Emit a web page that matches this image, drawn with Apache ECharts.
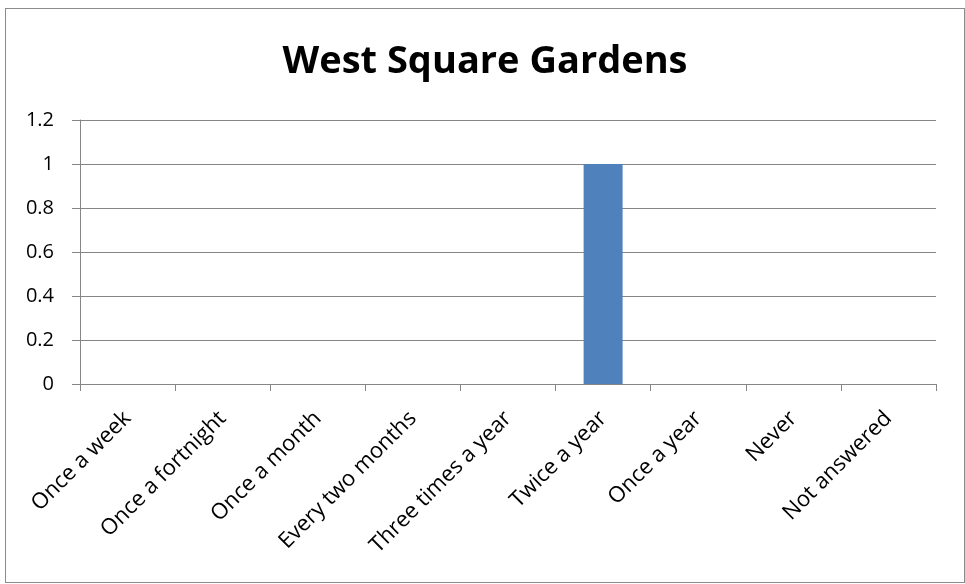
<!DOCTYPE html>
<html>
<head>
<meta charset="utf-8">
<script src="https://cdn.jsdelivr.net/npm/echarts@6/dist/echarts.min.js"></script>
<style>
  html, body { margin: 0; padding: 0; background: #fff; }
  #chart { position: absolute; left: 5px; top: 8px; width: 960px; height: 575px;
    border: 1px solid #8c8c8c; box-sizing: border-box; }
</style>
</head>
<body>
<div id="chart"></div>
<script>
var categories = ['Once a week', 'Once a fortnight', 'Once a month', 'Every two months',
  'Three times a year', 'Twice a year', 'Once a year', 'Never', 'Not answered'];
var counts = [0, 0, 0, 0, 0, 1, 0, 0, 0];
var yTicks = [0, 0.2, 0.4, 0.6, 0.8, 1, 1.2];

var chart = echarts.init(document.getElementById('chart'));
var font = 'Open Sans';

var option = {
  animation: false,
  title: {
    text: 'West Square Gardens',
    left: 'center',
    top: 29,
    textStyle: { fontFamily: font, fontSize: 38, fontWeight: 'bold', color: '#000' }
  },
  grid: { left: 74, right: 28, top: 111, bottom: 198 },
  xAxis: {
    type: 'category',
    data: categories,
    axisLine: { lineStyle: { color: '#868686', width: 1 } },
    axisTick: { show: true, length: 7, lineStyle: { color: '#868686' } },
    axisLabel: {
      rotate: 45, interval: 0, margin: 31,
      fontFamily: font, fontSize: 22, color: '#000'
    }
  },
  yAxis: {
    type: 'value',
    min: yTicks[0],
    max: yTicks[yTicks.length - 1],
    interval: 0.2,
    axisLine: { show: true, lineStyle: { color: '#868686' } },
    axisTick: { show: true, length: 8, lineStyle: { color: '#868686' } },
    splitLine: { lineStyle: { color: '#868686', width: 1 } },
    axisLabel: {
      fontFamily: font, fontSize: 20, color: '#000', margin: 26,
      formatter: function (v) { return String(Math.round(v * 10) / 10); }
    }
  },
  series: [{
    type: 'bar',
    data: counts,
    barWidth: '41%',
    itemStyle: { color: '#4f81bd' }
  }]
};
chart.setOption(option);
</script>
</body>
</html>
